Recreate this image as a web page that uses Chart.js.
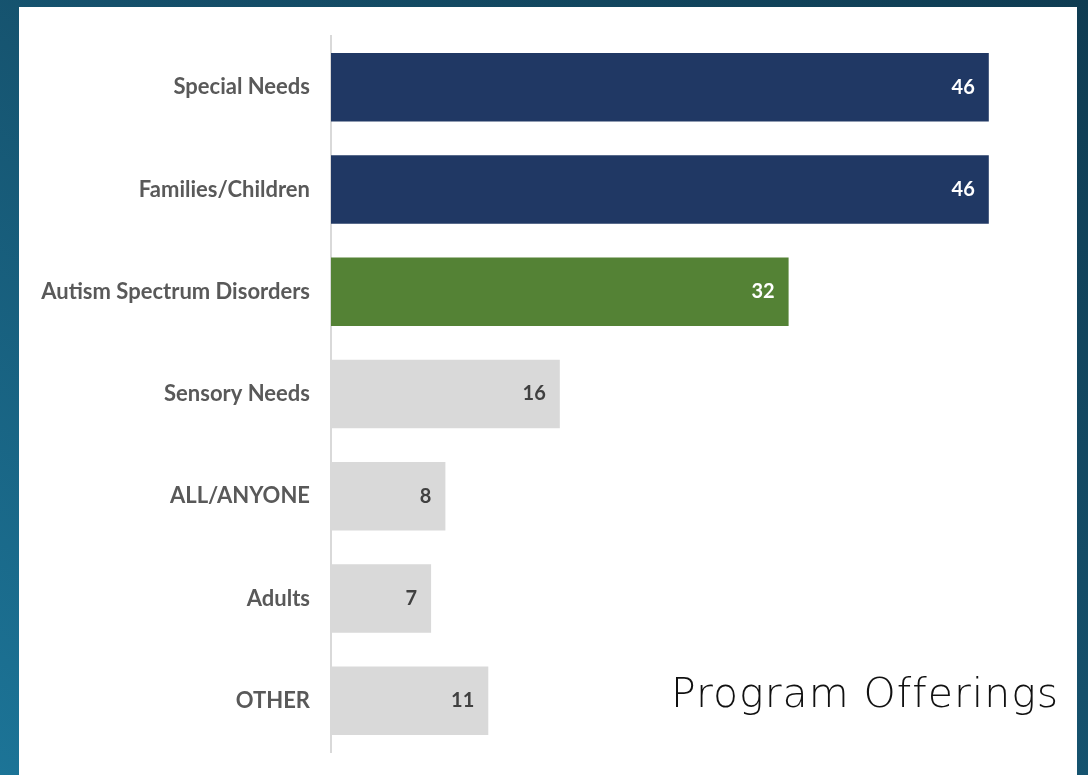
<!DOCTYPE html>
<html>
<head>
<meta charset="utf-8">
<script src="https://cdn.jsdelivr.net/npm/chart.js@4/dist/chart.umd.min.js"></script>
<style>
  html, body { margin: 0; padding: 0; }
  body {
    width: 1088px; height: 775px; overflow: hidden; position: relative;
    background: linear-gradient(to bottom left, #0f3c52 0%, #15506b 45%, #1c7497 100%);
  }
  #panel { position: absolute; left: 19px; top: 7px; width: 1058px; height: 768px; background: #fff; }
  #wrap { position: absolute; left: 0; top: 0; width: 1088px; height: 775px; }
  #title {
    position: absolute; left: 671px; top: 673px; line-height: 41px;
    font-family: "DejaVu Sans", Lato, sans-serif; font-weight: 200; font-size: 41px;
    letter-spacing: 1px; color: #111; white-space: nowrap;
  }
</style>
</head>
<body>
<div id="panel"></div>
<div id="wrap"><canvas id="bar-chart" width="1088" height="775"></canvas></div>
<div id="title">Program Offerings</div>
<script>
// categories and counts, top to bottom
const categories = ['Special Needs', 'Families/Children', 'Autism Spectrum Disorders', 'Sensory Needs', 'ALL/ANYONE', 'Adults', 'OTHER'];
const counts = [46, 46, 32, 16, 8, 7, 11];
const barColors = ['#203864', '#203864', '#548235', '#d9d9d9', '#d9d9d9', '#d9d9d9', '#d9d9d9'];
const labelColors = ['#ffffff', '#ffffff', '#ffffff', '#404040', '#404040', '#404040', '#404040'];

// value labels drawn inside the end of each bar
const valueLabels = {
    id: 'valueLabels',
    afterDatasetsDraw(chart) {
        const ctx = chart.ctx;
        const meta = chart.getDatasetMeta(0);
        ctx.save();
        ctx.font = 'bold 20px Lato, "Open Sans", sans-serif';
        ctx.textAlign = 'right';
        ctx.textBaseline = 'middle';
        meta.data.forEach((bar, i) => {
            ctx.fillStyle = labelColors[i];
            ctx.fillText(String(counts[i]), bar.x - 14, bar.y);
        });
        ctx.restore();
    }
};

const config = {
    type: 'bar',
    data: {
        labels: categories,
        datasets: [{
            data: counts,
            backgroundColor: barColors,
            borderWidth: 0,
            categoryPercentage: 1,
            barPercentage: 0.67
        }]
    },
    options: {
        indexAxis: 'y',
        responsive: false,
        animation: false,
        layout: { padding: { top: 36, bottom: 23, right: 42, left: 0 } },
        plugins: {
            legend: { display: false },
            tooltip: { enabled: false }
        },
        scales: {
            x: {
                display: false,
                min: 0,
                max: 50
            },
            y: {
                grid: { display: false },
                border: { display: true, color: '#d9d9d9', width: 2 },
                ticks: {
                    color: '#595959',
                    padding: 13,
                    font: { family: 'Lato, "Open Sans", sans-serif', weight: 'bold', size: 22 }
                },
                afterFit(scale) {
                    scale.width = 331;
                    scale.paddingTop = 0;
                    scale.paddingBottom = 0;
                }
            }
        }
    },
    plugins: [valueLabels]
};

window.onload = function() {
    const ctx = document.getElementById('bar-chart').getContext('2d');
    window.myBar = new Chart(ctx, config);
};
</script>
</body>
</html>
